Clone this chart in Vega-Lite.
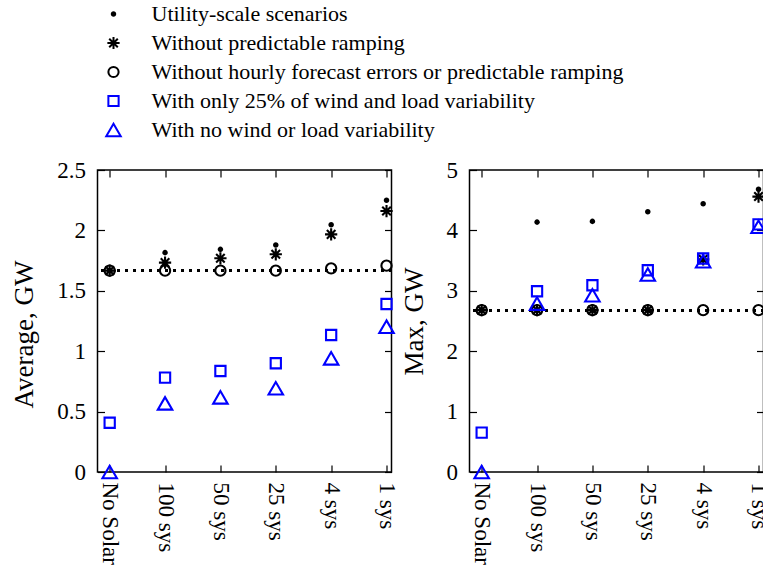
{
  "$schema": "https://vega.github.io/schema/vega-lite/v6.json",
  "padding": {"left": 9.5, "top": 3, "right": 0, "bottom": 0},
  "bounds": "flush",
  "spacing": 78,
  "config": {
    "view": {"stroke": "#000", "strokeWidth": 1.5},
    "font": "Liberation Serif",
    "axis": {
      "grid": false, "domain": false, "tickColor": "#000", "tickSize": -7, "tickWidth": 1.2,
      "labelFont": "Liberation Serif", "labelFontSize": 23, "labelColor": "#000",
      "titleFont": "Liberation Serif", "titleFontSize": 27, "titleFontWeight": "normal", "titleColor": "#000"
    },
    "legend": {
      "orient": "none", "legendX": 5, "legendY": -167,
      "labelFont": "Liberation Serif", "labelFontSize": 22, "labelColor": "#000",
      "labelOffset": 27, "rowPadding": 7, "symbolStrokeWidth": 2, "labelLimit": 0
    }
  },
  "datasets": {
    "avg": [
      {"i": 1, "series": "Utility-scale scenarios", "v": 1.667},
      {"i": 2, "series": "Utility-scale scenarios", "v": 1.816},
      {"i": 3, "series": "Utility-scale scenarios", "v": 1.843},
      {"i": 4, "series": "Utility-scale scenarios", "v": 1.879},
      {"i": 5, "series": "Utility-scale scenarios", "v": 2.047},
      {"i": 6, "series": "Utility-scale scenarios", "v": 2.249},
      {"i": 1, "series": "Without predictable ramping", "v": 1.667},
      {"i": 2, "series": "Without predictable ramping", "v": 1.733},
      {"i": 3, "series": "Without predictable ramping", "v": 1.769},
      {"i": 4, "series": "Without predictable ramping", "v": 1.802},
      {"i": 5, "series": "Without predictable ramping", "v": 1.967},
      {"i": 6, "series": "Without predictable ramping", "v": 2.16},
      {"i": 1, "series": "Without hourly forecast errors or predictable ramping", "v": 1.667},
      {"i": 2, "series": "Without hourly forecast errors or predictable ramping", "v": 1.667},
      {"i": 3, "series": "Without hourly forecast errors or predictable ramping", "v": 1.667},
      {"i": 4, "series": "Without hourly forecast errors or predictable ramping", "v": 1.667},
      {"i": 5, "series": "Without hourly forecast errors or predictable ramping", "v": 1.686},
      {"i": 6, "series": "Without hourly forecast errors or predictable ramping", "v": 1.708},
      {"i": 1, "series": "With only 25% of wind and load variability", "v": 0.408},
      {"i": 2, "series": "With only 25% of wind and load variability", "v": 0.781},
      {"i": 3, "series": "With only 25% of wind and load variability", "v": 0.836},
      {"i": 4, "series": "With only 25% of wind and load variability", "v": 0.9},
      {"i": 5, "series": "With only 25% of wind and load variability", "v": 1.134},
      {"i": 6, "series": "With only 25% of wind and load variability", "v": 1.391},
      {"i": 1, "series": "With no wind or load variability", "v": 0.0},
      {"i": 2, "series": "With no wind or load variability", "v": 0.568},
      {"i": 3, "series": "With no wind or load variability", "v": 0.618},
      {"i": 4, "series": "With no wind or load variability", "v": 0.693},
      {"i": 5, "series": "With no wind or load variability", "v": 0.941},
      {"i": 6, "series": "With no wind or load variability", "v": 1.203}
    ],
    "max": [
      {"i": 1, "series": "Utility-scale scenarios", "v": 2.68},
      {"i": 2, "series": "Utility-scale scenarios", "v": 4.137},
      {"i": 3, "series": "Utility-scale scenarios", "v": 4.149},
      {"i": 4, "series": "Utility-scale scenarios", "v": 4.31},
      {"i": 5, "series": "Utility-scale scenarios", "v": 4.442},
      {"i": 6, "series": "Utility-scale scenarios", "v": 4.68},
      {"i": 1, "series": "Without predictable ramping", "v": 2.68},
      {"i": 2, "series": "Without predictable ramping", "v": 2.68},
      {"i": 3, "series": "Without predictable ramping", "v": 2.68},
      {"i": 4, "series": "Without predictable ramping", "v": 2.68},
      {"i": 5, "series": "Without predictable ramping", "v": 3.52},
      {"i": 6, "series": "Without predictable ramping", "v": 4.56},
      {"i": 1, "series": "Without hourly forecast errors or predictable ramping", "v": 2.68},
      {"i": 2, "series": "Without hourly forecast errors or predictable ramping", "v": 2.68},
      {"i": 3, "series": "Without hourly forecast errors or predictable ramping", "v": 2.68},
      {"i": 4, "series": "Without hourly forecast errors or predictable ramping", "v": 2.68},
      {"i": 5, "series": "Without hourly forecast errors or predictable ramping", "v": 2.68},
      {"i": 6, "series": "Without hourly forecast errors or predictable ramping", "v": 2.68},
      {"i": 1, "series": "With only 25% of wind and load variability", "v": 0.652},
      {"i": 2, "series": "With only 25% of wind and load variability", "v": 2.992},
      {"i": 3, "series": "With only 25% of wind and load variability", "v": 3.092},
      {"i": 4, "series": "With only 25% of wind and load variability", "v": 3.341},
      {"i": 5, "series": "With only 25% of wind and load variability", "v": 3.535},
      {"i": 6, "series": "With only 25% of wind and load variability", "v": 4.099},
      {"i": 1, "series": "With no wind or load variability", "v": 0.0},
      {"i": 2, "series": "With no wind or load variability", "v": 2.788},
      {"i": 3, "series": "With no wind or load variability", "v": 2.926},
      {"i": 4, "series": "With no wind or load variability", "v": 3.27},
      {"i": 5, "series": "With no wind or load variability", "v": 3.49},
      {"i": 6, "series": "With no wind or load variability", "v": 4.06}
    ]
  },
  "hconcat": [
    {
      "width": 294, "height": 302,
      "data": {"name": "avg"},
      "layer": [
        {
          "mark": {"type": "rule", "strokeDash": [2, 6], "strokeWidth": 2.5, "color": "#000"},
          "encoding": {"y": {"datum": 1.667, "type": "quantitative", "axis": null, "scale": {"domain": [0, 2.5], "nice": false, "zero": false}}}
        },
        {
          "mark": {"type": "point", "strokeWidth": 2.1, "opacity": 1},
          "encoding": {
            "x": {"field": "i", "type": "quantitative", "scale": {"domain": [0.78, 6.09], "nice": false, "zero": false},
                  "axis": {"orient": "bottom", "values": [1, 2, 3, 4, 5, 6], "labelExpr": "['No Solar','100 sys','50 sys','25 sys','4 sys','1 sys'][datum.value-1]", "labelAngle": 90, "labelAlign": "left", "labelBaseline": "middle", "labelPadding": 17, "title": null}},
            "y": {"field": "v", "type": "quantitative", "scale": {"domain": [0, 2.5], "nice": false, "zero": false},
                  "axis": {"orient": "left", "values": [0, 0.5, 1, 1.5, 2, 2.5], "format": "~g", "labelPadding": 19, "title": "Average, GW", "titleX": -65, "titleY": 164, "titleBaseline": "alphabetic", "titleAlign": "center", "titleAngle": -90}},
            "shape": {"field": "series", "type": "nominal", "title": null,
                      "scale": {"domain": ["Utility-scale scenarios", "Without predictable ramping", "Without hourly forecast errors or predictable ramping", "With only 25% of wind and load variability", "With no wind or load variability"],
                                "range": ["circle", "M0,-1L0,1M-1,0L1,0M-0.7,-0.7L0.7,0.7M-0.7,0.7L0.7,-0.7", "circle", "square", "triangle-up"]}},
            "stroke": {"field": "series", "type": "nominal", "title": null,
                      "scale": {"domain": ["Utility-scale scenarios", "Without predictable ramping", "Without hourly forecast errors or predictable ramping", "With only 25% of wind and load variability", "With no wind or load variability"],
                                "range": ["#000", "#000", "#000", "#0000ff", "#0000ff"]}},
            "fill": {"field": "series", "type": "nominal", "title": null,
                      "scale": {"domain": ["Utility-scale scenarios", "Without predictable ramping", "Without hourly forecast errors or predictable ramping", "With only 25% of wind and load variability", "With no wind or load variability"],
                                "range": ["#000", "transparent", "transparent", "transparent", "transparent"]}},
            "size": {"field": "series", "type": "nominal", "title": null,
                      "scale": {"type": "ordinal", "domain": ["Utility-scale scenarios", "Without predictable ramping", "Without hourly forecast errors or predictable ramping", "With only 25% of wind and load variability", "With no wind or load variability"],
                                "range": [12, 150, 105, 105, 210]}}
          }
        },
        {
          "mark": {"type": "point", "opacity": 0},
          "encoding": {
            "x": {"field": "i", "type": "quantitative", "axis": {"orient": "top", "values": [1, 2, 3, 4, 5, 6], "labels": false, "title": null}},
            "y": {"field": "v", "type": "quantitative", "axis": {"orient": "right", "values": [0, 0.5, 1, 1.5, 2, 2.5], "labels": false, "title": null}}
          }
        }
      ],
      "resolve": {"axis": {"x": "independent", "y": "independent"}}
    },
    {
      "width": 294, "height": 302,
      "data": {"name": "max"},
      "layer": [
        {
          "mark": {"type": "rule", "strokeDash": [2, 6], "strokeWidth": 2.5, "color": "#000"},
          "encoding": {"y": {"datum": 2.68, "type": "quantitative", "axis": null, "scale": {"domain": [0, 5], "nice": false, "zero": false}}}
        },
        {
          "mark": {"type": "point", "strokeWidth": 2.1, "opacity": 1},
          "encoding": {
            "x": {"field": "i", "type": "quantitative", "scale": {"domain": [0.78, 6.09], "nice": false, "zero": false},
                  "axis": {"orient": "bottom", "values": [1, 2, 3, 4, 5, 6], "labelExpr": "['No Solar','100 sys','50 sys','25 sys','4 sys','1 sys'][datum.value-1]", "labelAngle": 90, "labelAlign": "left", "labelBaseline": "middle", "labelPadding": 17, "title": null}},
            "y": {"field": "v", "type": "quantitative", "scale": {"domain": [0, 5], "nice": false, "zero": false},
                  "axis": {"orient": "left", "values": [0, 1, 2, 3, 4, 5], "format": "~g", "labelPadding": 19, "title": "Max, GW", "titleX": -47, "titleY": 151, "titleBaseline": "alphabetic", "titleAlign": "center", "titleAngle": -90}},
            "shape": {"field": "series", "type": "nominal", "title": null,
                      "scale": {"domain": ["Utility-scale scenarios", "Without predictable ramping", "Without hourly forecast errors or predictable ramping", "With only 25% of wind and load variability", "With no wind or load variability"],
                                "range": ["circle", "M0,-1L0,1M-1,0L1,0M-0.7,-0.7L0.7,0.7M-0.7,0.7L0.7,-0.7", "circle", "square", "triangle-up"]}},
            "stroke": {"field": "series", "type": "nominal", "title": null,
                      "scale": {"domain": ["Utility-scale scenarios", "Without predictable ramping", "Without hourly forecast errors or predictable ramping", "With only 25% of wind and load variability", "With no wind or load variability"],
                                "range": ["#000", "#000", "#000", "#0000ff", "#0000ff"]}},
            "fill": {"field": "series", "type": "nominal", "title": null,
                      "scale": {"domain": ["Utility-scale scenarios", "Without predictable ramping", "Without hourly forecast errors or predictable ramping", "With only 25% of wind and load variability", "With no wind or load variability"],
                                "range": ["#000", "transparent", "transparent", "transparent", "transparent"]}},
            "size": {"field": "series", "type": "nominal", "title": null,
                      "scale": {"type": "ordinal", "domain": ["Utility-scale scenarios", "Without predictable ramping", "Without hourly forecast errors or predictable ramping", "With only 25% of wind and load variability", "With no wind or load variability"],
                                "range": [12, 150, 105, 105, 210]}}
          }
        },
        {
          "mark": {"type": "point", "opacity": 0},
          "encoding": {
            "x": {"field": "i", "type": "quantitative", "axis": {"orient": "top", "values": [1, 2, 3, 4, 5, 6], "labels": false, "title": null}},
            "y": {"field": "v", "type": "quantitative", "axis": {"orient": "right", "values": [0, 1, 2, 3, 4, 5], "labels": false, "title": null}}
          }
        }
      ],
      "resolve": {"axis": {"x": "independent", "y": "independent"}}
    }
  ]
}
